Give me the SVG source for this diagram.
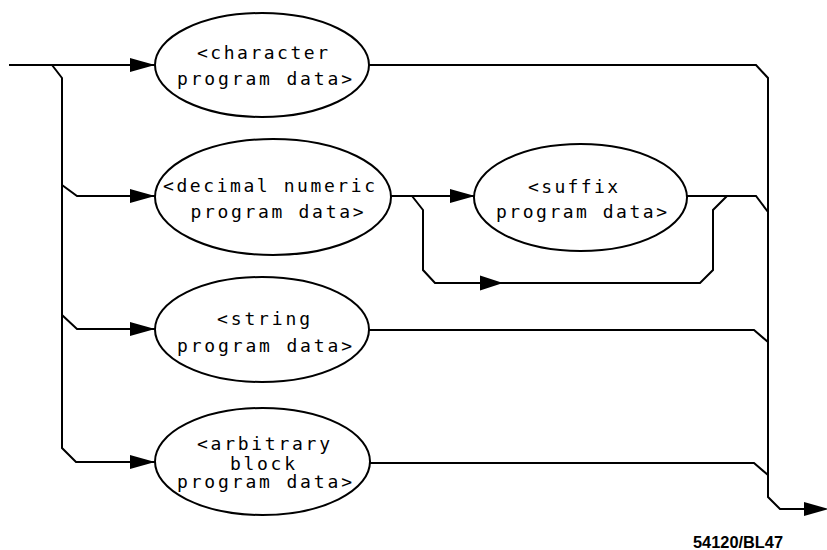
<svg xmlns="http://www.w3.org/2000/svg" xmlns:xlink="http://www.w3.org/1999/xlink" width="827" height="550" viewBox="0 0 827 550">
<style>
.bg{fill:#fff}
.node ellipse{fill:#fff;stroke:#000;stroke-width:2}
.node text{font-family:"DejaVu Sans Mono","Liberation Mono",monospace;font-size:18px;fill:#000;text-anchor:middle}
#connectors path{fill:none;stroke:#000;stroke-width:2;stroke-linejoin:miter}
.ah{fill:#000;stroke:none}
.lbl{font-family:"Liberation Sans",Arial,sans-serif;font-weight:bold;font-size:16px;fill:#000}
</style>
<defs>
<path id="ah" class="ah" d="M0,0 L-25,-7 L-25,7 Z"/>
<path id="ah2" class="ah" d="M0,0 L-23,-7.5 L-23,7.5 Z"/>
</defs>
<rect class="bg" x="0" y="0" width="827" height="550"/>
<g id="connectors">
<path d="M9,65 H155"/>
<path d="M52,65 L62,78 V448 L76,462 H155"/>
<path d="M62,185 L77,196 H155"/>
<path d="M62,315 L77,329 H155"/>
<path d="M369,65 H756 L768,78 V497 L780,509 H815"/>
<path d="M391,196 H475"/>
<path d="M412,196 L423,210 V270 L435,283 H700 L713,270 V210 L727,196"/>
<path d="M687,196 H756 L768,212"/>
<path d="M369,330 H754 L768,342"/>
<path d="M370,463 H754 L768,475"/>
<use xlink:href="#ah" x="155" y="65"/>
<use xlink:href="#ah" x="155" y="196"/>
<use xlink:href="#ah" x="155" y="329"/>
<use xlink:href="#ah" x="155" y="462"/>
<use xlink:href="#ah" x="475" y="196"/>
<use xlink:href="#ah2" x="503" y="283"/>
<use xlink:href="#ah" x="829" y="509"/>
</g>
<g id="character" class="node">
<ellipse cx="262" cy="65" rx="107" ry="52"/>
<text x="262.5" y="59" textLength="131" lengthAdjust="spacing">&lt;character</text>
<text x="264.5" y="85" textLength="175" lengthAdjust="spacing">program data&gt;</text>
</g>
<g id="decimal" class="node">
<ellipse cx="273" cy="197" rx="118" ry="58"/>
<text x="269" y="192" textLength="212" lengthAdjust="spacing">&lt;decimal numeric</text>
<text x="277" y="218" textLength="173" lengthAdjust="spacing">program data&gt;</text>
</g>
<g id="suffix" class="node">
<ellipse cx="580.5" cy="197.5" rx="106.5" ry="53.5"/>
<text x="573" y="193" textLength="90" lengthAdjust="spacing">&lt;suffix</text>
<text x="581.5" y="218" textLength="171" lengthAdjust="spacing">program data&gt;</text>
</g>
<g id="string" class="node">
<ellipse cx="262" cy="329.5" rx="107" ry="52.5"/>
<text x="263.5" y="325" textLength="93" lengthAdjust="spacing">&lt;string</text>
<text x="264.5" y="352" textLength="175" lengthAdjust="spacing">program data&gt;</text>
</g>
<g id="arbitrary" class="node">
<ellipse cx="262.5" cy="461.5" rx="107.5" ry="53.5"/>
<text x="263.5" y="450" textLength="133" lengthAdjust="spacing">&lt;arbitrary</text>
<text x="262.5" y="470" textLength="65" lengthAdjust="spacing">block</text>
<text x="264.5" y="488" textLength="175" lengthAdjust="spacing">program data&gt;</text>
</g>
<text class="lbl" x="693" y="548" textLength="90" lengthAdjust="spacingAndGlyphs">54120/BL47</text>
</svg>
